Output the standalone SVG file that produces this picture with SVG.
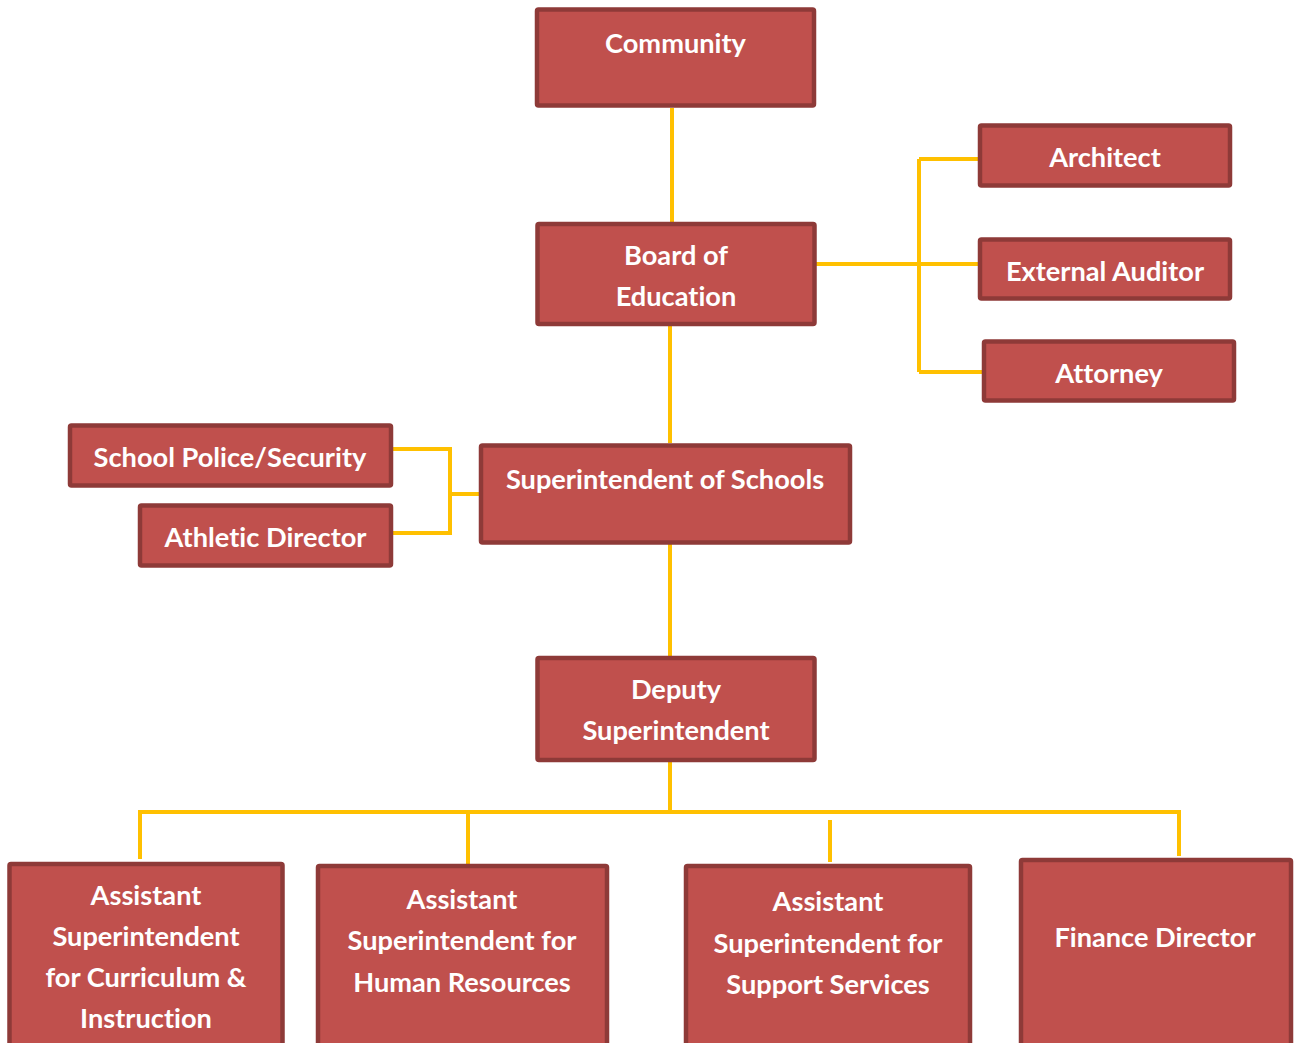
<svg xmlns="http://www.w3.org/2000/svg" width="1294" height="1043" viewBox="0 0 1294 1043">
<style>
.box{fill:#C0504D;stroke:#8E3A38;stroke-width:4.5;}
.t{font-family:Lato,"Open Sans","Liberation Sans",sans-serif;font-weight:bold;font-size:27.2px;fill:#FFFFFF;text-anchor:middle;font-variant-ligatures:none;}
.c{fill:none;stroke:#FFC000;stroke-width:4;}
</style>
<rect width="1294" height="1043" fill="#FFFFFF"/>
<g id="connectors">
<path class="c" d="M672 108 V222"/>
<path class="c" d="M816 264 H980 M919 159 V372 M919 159 H980 M919 372 H983"/>
<path class="c" d="M670 326 V443"/>
<path class="c" d="M392 449 H450 V533 H392 M450 494 H479"/>
<path class="c" d="M670 544 V657"/>
<path class="c" d="M670 762 V812 M140 859 V812 H1179 V856 M468 812 V865 M830 820 V862"/>
</g>
<g id="community"><rect class="box" x="537" y="9.5" width="277" height="96" rx="1.5"/><text class="t" x="675.5" y="52.5">Community</text></g>
<g id="board"><rect class="box" x="537.5" y="224" width="277" height="100" rx="1.5"/><text class="t" x="676" y="264.5">Board of</text><text class="t" x="676" y="305.5">Education</text></g>
<g id="architect"><rect class="box" x="980" y="125.5" width="250" height="60" rx="1.5"/><text class="t" x="1105" y="166.5">Architect</text></g>
<g id="auditor"><rect class="box" x="980" y="239.5" width="250" height="59" rx="1.5"/><text class="t" x="1105" y="280.5">External Auditor</text></g>
<g id="attorney"><rect class="box" x="984" y="341.5" width="250" height="59" rx="1.5"/><text class="t" x="1109" y="382.5">Attorney</text></g>
<g id="police"><rect class="box" x="70" y="425.5" width="321" height="60" rx="1.5"/><text class="t" x="230" y="466.5">School Police/Security</text></g>
<g id="athletic"><rect class="box" x="140" y="505.5" width="251" height="60" rx="1.5"/><text class="t" x="265.5" y="546.5">Athletic Director</text></g>
<g id="superintendent"><rect class="box" x="481" y="445.5" width="369" height="97" rx="1.5"/><text class="t" x="665" y="488.5">Superintendent of Schools</text></g>
<g id="deputy"><rect class="box" x="537.5" y="658" width="277" height="102" rx="1.5"/><text class="t" x="676" y="698.5">Deputy</text><text class="t" x="676" y="739.5">Superintendent</text></g>
<g id="curriculum"><rect class="box" x="9.5" y="864" width="273" height="200" rx="1.5"/><text class="t" x="146" y="904.5">Assistant</text><text class="t" x="146" y="945.5">Superintendent</text><text class="t" x="146" y="986.5">for Curriculum &amp;</text><text class="t" x="146" y="1027.5">Instruction</text></g>
<g id="hr"><rect class="box" x="318" y="866" width="289" height="200" rx="1.5"/><text class="t" x="462" y="908.5">Assistant</text><text class="t" x="462" y="949.5">Superintendent for</text><text class="t" x="462" y="991.5">Human Resources</text></g>
<g id="support"><rect class="box" x="686" y="866" width="284" height="200" rx="1.5"/><text class="t" x="828" y="910.5">Assistant</text><text class="t" x="828" y="952.5">Superintendent for</text><text class="t" x="828" y="993.5">Support Services</text></g>
<g id="finance"><rect class="box" x="1021" y="860" width="270" height="200" rx="1.5"/><text class="t" x="1155" y="946.5">Finance Director</text></g>
</svg>
